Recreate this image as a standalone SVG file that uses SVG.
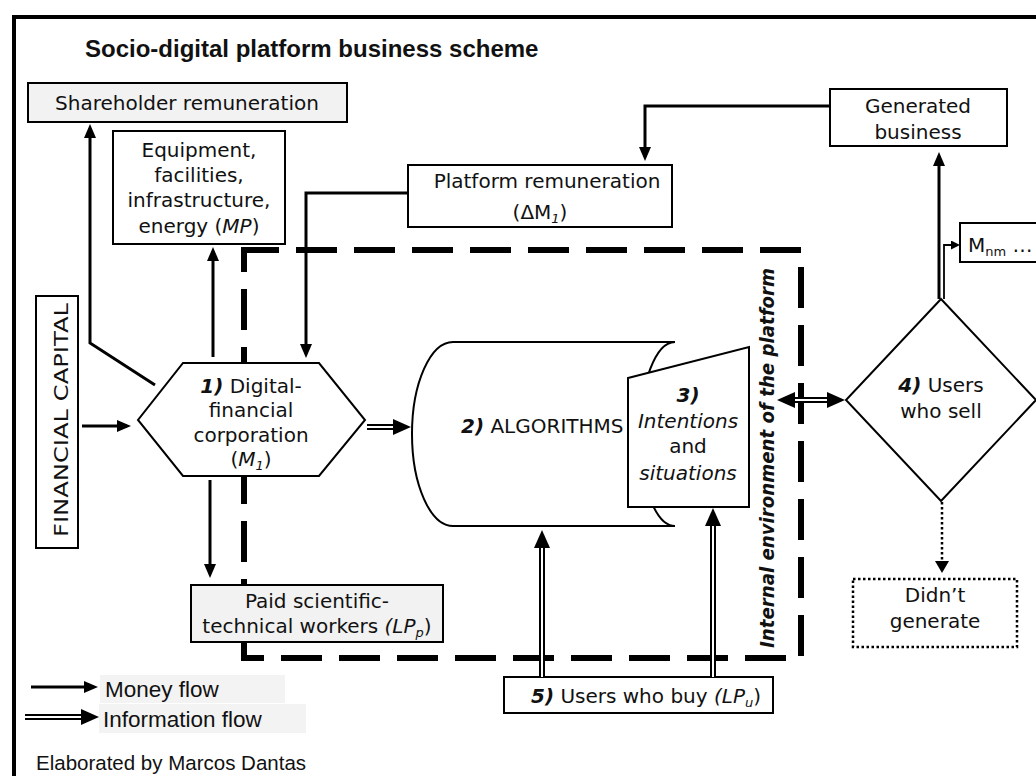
<svg xmlns="http://www.w3.org/2000/svg" width="1036" height="776" viewBox="0 0 1036 776">
<style>
.t{font-family:"DejaVu Sans","Noto Sans",sans-serif;font-size:20px;fill:#111;text-anchor:middle}
.s{text-anchor:start}
.box{fill:#fff;stroke:#000;stroke-width:2}
.gbox{fill:#f2f2f2;stroke:#000;stroke-width:2}
.m{fill:none;stroke:#000;stroke-width:3;marker-end:url(#ah)}
.dO{fill:none;stroke:#000;stroke-width:6;marker-end:url(#dh)}
.dI{fill:none;stroke:#fff;stroke-width:2}
.bi{font-weight:bold;font-style:italic}
.i{font-style:italic}
.sub{font-size:13px}
.a{font-family:"Liberation Sans",Arial,sans-serif;fill:#111}
.lg{fill:#f3f3f3;stroke:none}
</style>
<defs>
<marker id="ah" viewBox="0 0 14 12" refX="10" refY="6" markerWidth="14" markerHeight="12" markerUnits="userSpaceOnUse" orient="auto"><path d="M0,0L14,6L0,12z" fill="#000"/></marker>
<marker id="dh" viewBox="0 0 18 16" refX="4" refY="8" markerWidth="18" markerHeight="16" markerUnits="userSpaceOnUse" orient="auto-start-reverse"><path d="M0,0L18,8L0,16z" fill="#000"/></marker>
<marker id="sh" viewBox="0 0 9 9" refX="0" refY="4.5" markerWidth="9" markerHeight="9" markerUnits="userSpaceOnUse" orient="auto"><path d="M0,0L9,4.5L0,9z" fill="#000"/></marker>
</defs>
<rect width="1036" height="776" fill="#fff"/>
<g id="frame"><path d="M14,776V17H1040" fill="none" stroke="#000" stroke-width="4"/></g>
<g id="title"><text x="85" y="57" class="a" font-weight="bold" font-size="24">Socio-digital platform business scheme</text></g>

<g id="internal-environment">
<path d="M244,250H801V658H244Z" fill="none" stroke="#000" stroke-width="6" stroke-dasharray="41 17" stroke-dashoffset="6"/>
<text transform="translate(774,458) rotate(-90)" class="t bi" font-size="18.5" textLength="380" lengthAdjust="spacingAndGlyphs">Internal environment of the platform</text>
</g>

<g id="shareholder">
<rect x="28" y="83" width="319" height="39" class="gbox"/>
<text x="187" y="110" class="t">Shareholder remuneration</text>
</g>

<g id="equipment">
<rect x="113" y="131" width="172" height="113" class="box"/>
<text x="199" y="157" class="t">Equipment,</text>
<text x="199" y="182" class="t">facilities,</text>
<text x="199" y="207" class="t">infrastructure,</text>
<text x="199" y="233" class="t">energy (<tspan class="i">MP</tspan>)</text>
</g>

<g id="platform-remuneration">
<rect x="408" y="165" width="264" height="62" class="box"/>
<text x="547" y="188" class="t">Platform remuneration</text>
<text x="540" y="219" class="t">(ΔM<tspan class="i sub" dy="4">1</tspan><tspan dy="-4">)</tspan></text>
</g>

<g id="generated-business">
<rect x="830" y="89" width="177" height="57" class="box"/>
<text x="918" y="113" class="t">Generated</text>
<text x="918" y="139" class="t">business</text>
</g>

<g id="mnm">
<rect x="960" y="223" width="90" height="39" class="box"/>
<text x="968" y="252" class="t s">M<tspan class="sub" dy="4">nm</tspan><tspan dy="-4"> …</tspan></text>
</g>

<g id="financial-capital">
<rect x="36" y="296" width="42" height="252" class="box"/>
<text transform="translate(68,420) rotate(-90)" class="t" font-size="26" textLength="234" lengthAdjust="spacingAndGlyphs">FINANCIAL CAPITAL</text>
</g>

<g id="corporation">
<polygon points="183,363 319,363 365,420 319,476 183,476 138,420" class="box"/>
<text x="251" y="393" class="t"><tspan class="bi">1)</tspan> Digital-</text>
<text x="251" y="417" class="t">financial</text>
<text x="251" y="442" class="t">corporation</text>
<text x="251" y="466" class="t">(<tspan class="i">M</tspan><tspan class="i sub" dy="4">1</tspan><tspan dy="-4">)</tspan></text>
</g>

<g id="algorithms">
<path d="M453,342H675A35,92 0 0,0 675,526H453A41,92 0 0,1 453,342Z" fill="#fff" stroke="#000" stroke-width="2"/>
<text x="461" y="433" class="t s"><tspan class="bi">2)</tspan> ALGORITHMS</text>
</g>

<g id="intentions">
<polygon points="628,378 749,347 749,507 628,507" class="box"/>
<text x="688" y="402" class="t bi">3)</text>
<text x="688" y="428" class="t i">Intentions</text>
<text x="688" y="453" class="t">and</text>
<text x="688" y="480" class="t i">situations</text>
</g>

<g id="users-who-sell">
<polygon points="941,299 1036,400 941,501 846,400" class="box"/>
<text x="941" y="392" class="t"><tspan class="bi">4)</tspan> Users</text>
<text x="941" y="418" class="t">who sell</text>
</g>

<g id="didnt-generate">
<rect x="853" y="579" width="164" height="68" fill="#fff" stroke="#000" stroke-width="2.5" stroke-dasharray="2.5 2.5"/>
<text x="935" y="602" class="t">Didn’t</text>
<text x="935" y="628" class="t">generate</text>
</g>

<g id="paid-workers">
<rect x="191" y="585" width="252" height="57" class="gbox"/>
<text x="317" y="608" class="t">Paid scientific-</text>
<text x="317" y="633" class="t">technical workers <tspan class="i">(LP</tspan><tspan class="i sub" dy="4">p</tspan><tspan dy="-4">)</tspan></text>
</g>

<g id="users-who-buy">
<rect x="504" y="677" width="269" height="36" class="box"/>
<text x="646" y="703" class="t" font-size="19"><tspan class="bi">5)</tspan> Users who buy <tspan class="i">(LP</tspan><tspan class="i sub" dy="4">u</tspan><tspan dy="-4">)</tspan></text>
</g>

<g id="connectors">
<path d="M82,426H127" class="m"/>
<path d="M155,385L90,343V128" class="m"/>
<path d="M213,357V251" class="m"/>
<path d="M408,193H306V354" class="m"/>
<path d="M210,480V574" class="m"/>
<path d="M830,106H645V157" class="m"/>
<path d="M939,299V156" class="m"/>
<path d="M944,299V245H951" fill="none" stroke="#000" stroke-width="1.8" marker-end="url(#sh)"/>
<path d="M942,502V563" fill="none" stroke="#000" stroke-width="2.5" stroke-dasharray="2.5 2.5"/>
<path d="M935,561H949L942,573Z" fill="#000"/>
<path d="M367,427H397" class="dO"/><path d="M367,427H393" class="dI"/>
<path d="M542,677V544" class="dO"/><path d="M542,677V548" class="dI"/>
<path d="M713,677V522" class="dO"/><path d="M713,677V526" class="dI"/>
<path d="M791,400H831" class="dO" marker-start="url(#dh)"/><path d="M795,400H827" class="dI"/>
</g>

<g id="legend">
<rect x="100" y="675" width="185" height="28" class="lg"/>
<rect x="99" y="704" width="207" height="29" class="lg"/>
<path d="M31,687H94" class="m"/>
<path d="M25,717H85" class="dO"/><path d="M25,717H81" class="dI"/>
<text x="105" y="697" class="a" font-size="22.5">Money flow</text>
<text x="103" y="727" class="a" font-size="22.5">Information flow</text>
<text x="36" y="770" class="a" font-size="20.5" fill="#222">Elaborated by Marcos Dantas</text>
</g>
</svg>
